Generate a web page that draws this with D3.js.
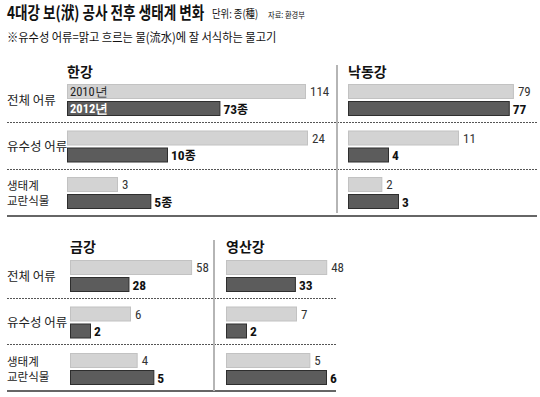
<!DOCTYPE html>
<html>
<head>
<meta charset="utf-8">
<script src="https://cdn.jsdelivr.net/npm/d3@7"></script>
<style>
  body { margin: 0; background: #fff; }
  svg { display: block; }
</style>
</head>
<body>
<div id="chart"></div>
<script>
// data
const rivers = ["한강", "낙동강", "금강", "영산강"];
const categories = ["전체 어류", "유수성 어류", "생태계\n교란식물"];
const years = ["2010년", "2012년"];
const v2010 = [[114, 24, 3], [79, 11, 2], [58, 6, 4], [48, 7, 5]];
const v2012 = [[73, 10, 5], [77, 4, 3], [28, 2, 5], [33, 2, 6]];
const unitSuffix = ["종", "", "", ""]; // only 한강 gets 종

const W = 540, H = 397;
const KR = "'Noto Sans CJK KR', 'Noto Sans', sans-serif";
const NUM = "'Liberation Sans Narrow', 'Roboto Condensed', 'DejaVu Sans Condensed', sans-serif";

const svg = d3.select("#chart").append("svg")
    .attr("width", W).attr("height", H);

// heading, squeezed horizontally like the condensed original face
function squeezed(x, y, sx, size, weight, text) {
    return svg.append("text")
        .attr("transform", `translate(${x},${y}) scale(${sx},1)`)
        .attr("font-family", KR).attr("font-size", size)
        .attr("font-weight", weight).attr("fill", "#111")
        .text(text);
}
squeezed(7, 19, 0.8, 17, "bold", "4대강 보(洑) 공사 전후 생태계 변화");
squeezed(212, 18, 0.85, 11, "normal", "단위: 종(種)");
squeezed(268, 18, 0.85, 8.5, "normal", "자료: 환경부");
squeezed(7, 42, 0.9, 12.5, "normal", "※유수성 어류=맑고 흐르는 물(流水)에 잘 서식하는 물고기");

// one scale per category, shared by the four rivers
const widths = [238, 240, 100];
const xs = categories.map((c, i) => d3.scaleLinear()
    .domain([0, d3.max(rivers, (r, k) => Math.max(v2010[k][i], v2012[k][i]))])
    .range([0, widths[i]]));

const sections = [
    { top: 84, titleY: 77, dashY: [122, 169], solidY: 216, right: 537, vx: 337, vy: [65, 213] },
    { top: 260, titleY: 252, dashY: [298, 344], solidY: 391, right: 336, vx: 214, vy: [240, 391] }
];
const panelX = [67, 348, 70, 226];
const rowY = d3.scalePoint().domain(categories).range([0, 93]);
const barH = 15, gap = 2;

sections.forEach((s, si) => {
    // separators
    s.dashY.forEach(y => svg.append("line")
        .attr("x1", 7).attr("x2", s.right).attr("y1", y + 0.5).attr("y2", y + 0.5)
        .attr("stroke", "#555").attr("stroke-width", 1).attr("stroke-dasharray", "2,1"));
    svg.append("line").attr("x1", 7).attr("x2", s.right)
        .attr("y1", s.solidY).attr("y2", s.solidY)
        .attr("stroke", "#333").attr("stroke-width", 1.5);
    svg.append("line").attr("x1", s.vx).attr("x2", s.vx)
        .attr("y1", s.vy[0]).attr("y2", s.vy[1])
        .attr("stroke", "#b5b5b5").attr("stroke-width", 2);

    // category labels
    categories.forEach(c => {
        const lines = c.split("\n");
        const cy = s.top + rowY(c) + 16;
        lines.forEach((ln, li) => svg.append("text")
            .attr("x", 7)
            .attr("y", cy + 4.5 + (li - (lines.length - 1) / 2) * 14.5)
            .attr("font-family", KR).attr("font-size", lines.length > 1 ? 11.5 : 12.5)
            .attr("fill", "#222")
            .text(ln));
    });
});

rivers.forEach((r, k) => {
    const s = sections[Math.floor(k / 2)];
    const x0 = panelX[k];
    const g = svg.append("g").attr("transform", `translate(${x0},${s.top})`);

    svg.append("text").attr("x", x0).attr("y", s.titleY)
        .attr("font-family", KR).attr("font-weight", "bold").attr("font-size", 14)
        .attr("fill", "#111").text(r);

    categories.forEach((c, i) => {
        const y = rowY(c);
        const a = v2010[k][i], b = v2012[k][i];
        g.append("rect").attr("x", 0.5).attr("y", y + 0.5)
            .attr("width", xs[i](a)).attr("height", barH - 1)
            .attr("fill", "#d3d3d3").attr("stroke", "#c2c2c2");
        g.append("rect").attr("x", 0.5).attr("y", y + barH + gap + 0.5)
            .attr("width", xs[i](b)).attr("height", barH - 1)
            .attr("fill", "#5c5c5c").attr("stroke", "#2e2e2e");

        g.append("text").attr("x", xs[i](a) + 5).attr("y", y + 12)
            .attr("font-family", NUM).attr("font-size", 13).attr("fill", "#333")
            .text(a);
        g.append("text").attr("x", xs[i](b) + 4).attr("y", y + barH + gap + 12.5)
            .attr("font-family", NUM).attr("font-weight", "bold").attr("font-size", 13.5)
            .attr("fill", "#111")
            .text(b)
            .append("tspan").attr("font-family", KR).attr("font-size", 12)
            .text(unitSuffix[k]);

        // year tags inside the first panel's first row
        if (k === 0 && i === 0) {
            g.append("text").attr("x", 3).attr("y", y + 11.5)
                .attr("font-family", NUM).attr("font-size", 12.5).attr("fill", "#222")
                .text(years[0]);
            g.append("text").attr("x", 3).attr("y", y + barH + gap + 11.5)
                .attr("font-family", NUM).attr("font-weight", "bold").attr("font-size", 12.5)
                .attr("fill", "#fff")
                .text(years[1]);
        }
    });
});
</script>
</body>
</html>
